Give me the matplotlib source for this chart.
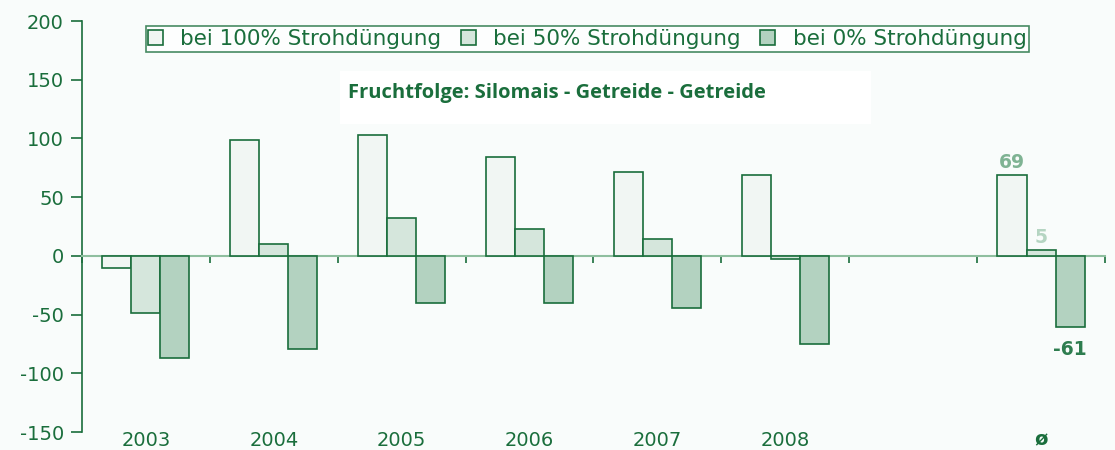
import numpy as np
import matplotlib.pyplot as plt
from matplotlib.patches import Rectangle

categories = ['2003', '2004', '2005', '2006', '2007', '2008', '', 'ø']
stroh_100 = [-10, 99, 103, 84, 71, 69, np.nan, 69]
stroh_50 = [-49, 10, 32, 23, 14, -3, np.nan, 5]
stroh_0 = [-87, -79, -40, -40, -44, -75, np.nan, -61]
series_names = ['bei 100% Strohdüngung', 'bei 50% Strohdüngung', 'bei 0% Strohdüngung']
avg_labels = ['69', '5', '-61']

green = '#1a6e3c'
fills = ['#f1f6f3', '#d5e6dc', '#b3d2c0']
label_cols = ['#7fb393', '#b5d5c2', '#2e7d4f']
bg = '#f9fcfb'

plt.rcParams['font.family'] = ['DejaVu Sans']
plt.rcParams['axes.unicode_minus'] = False

fig = plt.figure(figsize=(11.15, 4.5), dpi=100, facecolor=bg)
ax = fig.add_axes([0.0735, 0.04, 0.9175, 0.9133], facecolor=bg)

x = np.arange(len(categories))
w = 0.227
data = [stroh_100, stroh_50, stroh_0]
for i, vals in enumerate(data):
    ax.bar(x + (i - 1) * w, vals, w, color=fills[i], edgecolor=green,
           linewidth=1.2, label=series_names[i], zorder=3)

# labels on the average group
for i, vals in enumerate(data):
    v = vals[-1]
    off = 2 if v >= 0 else -9
    ax.annotate(avg_labels[i], (x[-1] + (i - 1) * w, v), xytext=(0, off),
                textcoords='offset points', ha='center',
                va='bottom' if v >= 0 else 'top', fontsize=13.5,
                fontweight='bold', color=label_cols[i])

ax.set_xlim(-0.5, len(categories) - 0.5)
ax.set_ylim(-150, 200)
ax.set_yticks(np.arange(-150, 201, 50))
ax.tick_params(axis='y', colors=green, labelsize=14, length=8, width=1.2,
               pad=5, labelcolor=green)

for s in ['top', 'right']:
    ax.spines[s].set_visible(False)
ax.spines['left'].set_color(green)
ax.spines['left'].set_linewidth(1.2)
ax.spines['bottom'].set_position(('data', 0))
ax.spines['bottom'].set_color('#8fbf9f')
ax.spines['bottom'].set_linewidth(1.5)
ax.set_xticks(np.arange(-0.5, len(categories), 1))
ax.tick_params(axis='x', direction='out', length=5, width=1.2, colors=green,
               labelbottom=False)

sec = ax.secondary_xaxis(0)
sec.set_xticks(x)
sec.set_xticklabels(categories)
sec.spines['bottom'].set_visible(False)
sec.tick_params(length=0, pad=-1, labelsize=14, labelcolor=green)
sec.get_xticklabels()[-1].set_fontweight('bold')

leg = ax.legend(loc='upper center', bbox_to_anchor=(0.494, 1.0), ncol=3,
                frameon=True, fancybox=False, fontsize=15.5, handlelength=0.7,
                handleheight=0.7, handletextpad=0.8, columnspacing=0.9,
                borderpad=0.12, borderaxespad=0.25, labelcolor=green)
leg.get_frame().set_edgecolor(green)
leg.get_frame().set_linewidth(1.2)
leg.get_frame().set_facecolor('white')

# title box
fig.patches.append(Rectangle((340 / 1115, 1 - 124 / 450), 531 / 1115, 53 / 450,
                             transform=fig.transFigure, facecolor='white',
                             edgecolor='none', zorder=1))
fig.text(348 / 1115, 1 - 93 / 450, 'Fruchtfolge: Silomais - Getreide - Getreide',
         fontsize=14.5, fontweight='bold', color=green, va='center',
         family=['Open Sans', 'DejaVu Sans'])

fig.savefig('out.png', dpi=100, facecolor=bg)
